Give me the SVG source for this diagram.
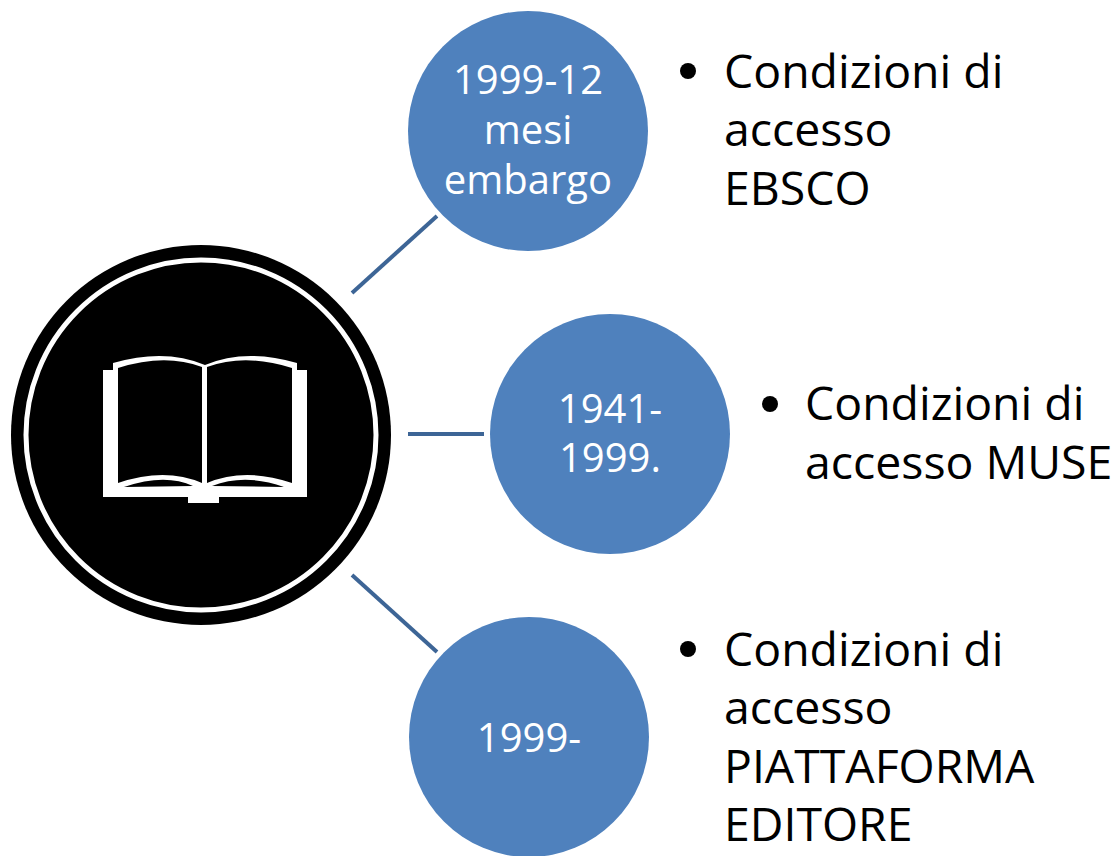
<svg xmlns="http://www.w3.org/2000/svg" width="1118" height="856" viewBox="0 0 1118 856">
<style>
.c{fill:#4f81bd}
.l{stroke:#3d6596;stroke-width:4;fill:none}
.w{font:40px "Open Sans","Liberation Sans",sans-serif;fill:#fff;text-anchor:middle}
.t{font:46.4px "Open Sans","Liberation Sans",sans-serif;fill:#000}
</style>
<rect width="1118" height="856" fill="#fff"/>
<g id="connectors">
<path class="l" d="M352 293L437 216"/>
<path class="l" d="M408 434H484"/>
<path class="l" d="M352 575L437 652"/>
</g>
<g id="hub">
<circle cx="201" cy="435" r="190" fill="#000"/>
<circle cx="201" cy="435" r="175" fill="none" stroke="#fff" stroke-width="5"/>
<path fill="#fff" d="M103 370H113V363Q165 348 205 365Q245 348 297 363V370H307V497H219V503H188V497H103Z"/>
<path fill="#000" d="M118 368Q165 353 202 367V483Q165 467 118 483ZM207 367Q245 353 292 368V483Q245 467 207 483ZM124 487Q165 473 193 486ZM212 486Q245 473 284 487Z"/>
</g>
<g id="n1"><circle class="c" cx="528" cy="131" r="120"/><text class="w" x="528" y="94">1999-12</text><text class="w" x="528" y="144">mesi</text><text class="w" x="528" y="194">embargo</text></g>
<g id="n2"><circle class="c" cx="610" cy="434" r="120"/><text class="w" x="610" y="423">1941-</text><text class="w" x="610" y="472">1999.</text></g>
<g id="n3"><circle class="c" cx="529" cy="737" r="120"/><text class="w" x="529" y="752">1999-</text></g>
<g id="t1"><circle cx="688" cy="71" r="8"/><text class="t" x="724" y="88">Condizioni di</text><text class="t" x="724" y="146">accesso</text><text class="t" x="724" y="205">EBSCO</text></g>
<g id="t2"><circle cx="770" cy="404" r="8"/><text class="t" x="805" y="420">Condizioni di</text><text class="t" x="805" y="479">accesso MUSE</text></g>
<g id="t3"><circle cx="688" cy="649" r="8"/><text class="t" x="724" y="666">Condizioni di</text><text class="t" x="724" y="724">accesso</text><text class="t" x="724" y="783">PIATTAFORMA</text><text class="t" x="724" y="841">EDITORE</text></g>
</svg>
